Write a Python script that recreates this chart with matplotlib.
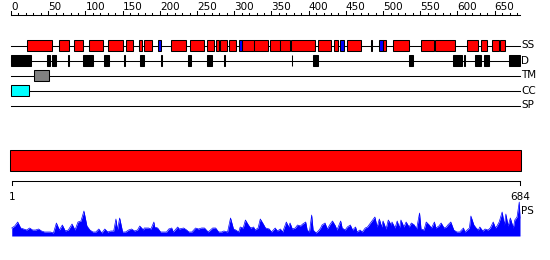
import matplotlib
matplotlib.use("Agg")
import matplotlib.pyplot as plt
from matplotlib.patches import Rectangle

seq_len = 684

# secondary structure (start, end) in residues
ss_helix = [(22, 55), (64, 78), (84, 97), (105, 124), (131, 150), (155, 164), (172, 176),
            (179, 189), (215, 235), (240, 260), (264, 273), (275, 279), (281, 290), (293, 302),
            (311, 327), (327, 346), (348, 361), (361, 375), (376, 408), (412, 430), (434, 440),
            (452, 471), (484, 485), (500, 504), (514, 535), (551, 568), (570, 597), (613, 627),
            (632, 639), (646, 656), (657, 664)]
ss_strand = [(197, 202), (306, 311), (442, 447), (494, 500)]
disorder = [(0, 27), (48, 53), (55, 61), (77, 78), (97, 110), (125, 132), (152, 153),
            (173, 179), (201, 203), (238, 242), (263, 270), (286, 287), (377, 378),
            (406, 412), (535, 540), (594, 606), (609, 610), (624, 631), (636, 642), (669, 684)]
tm = [(31, 51)]
cc = [(0, 24)]
sp = []

track_names = ["SS", "D", "TM", "CC", "SP"]
ruler_labels = [0, 50, 100, 150, 200, 250, 300, 350, 400, 450, 500, 550, 600, 650]

# PS profile (residue, score)
ps_pos = [1, 5, 9, 13, 17, 21, 25, 29, 33, 37, 41, 45, 49, 53, 57, 61, 65, 69, 73, 77,
          82, 86, 90, 94, 98, 102, 106, 110, 114, 118, 122, 126, 130, 134, 138, 141, 143, 146,
          150, 154, 158, 162, 166, 170, 173, 178, 179, 185, 188, 192, 193, 197, 201, 209,
          212, 216, 218, 224, 226, 232, 236, 239, 243, 248, 252, 256, 260, 265, 271, 275,
          279, 283, 286, 291, 295, 299, 302, 306, 308, 312, 315, 319, 322, 326, 328, 332,
          335, 339, 342, 347, 350, 355, 358, 362, 365, 370, 373, 375, 378, 382, 385, 389,
          392, 396, 398, 401, 404, 406, 410, 413, 416, 418, 422, 425, 429, 432, 436, 438,
          443, 445, 449, 452, 456, 459, 463, 465, 469, 472, 476, 479, 483, 485, 489, 492,
          495, 498, 500, 504, 507, 511, 512, 516, 519, 522, 524, 528, 531, 535, 538, 542,
          545, 549, 551, 555, 558, 562, 565, 569, 571, 575, 578, 582, 585, 587, 591, 595,
          599, 603, 608, 610, 616, 618, 622, 625, 628, 630, 634, 637, 641, 644, 648, 651,
          653, 656, 660, 663, 665, 668, 671, 675, 677, 680, 683, 684]
ps_val = [8, 10, 14, 8, 7, 6, 8, 6, 6, 7, 5, 4, 4, 4, 3, 13, 6, 11, 5, 6,
          12, 6, 14, 15, 25, 10, 6, 4, 4, 7, 3, 7, 4, 5, 5, 17, 6, 18,
          4, 4, 6, 7, 5, 6, 10, 6, 8, 8, 7, 14, 9, 8, 4, 4,
          7, 8, 4, 9, 7, 8, 6, 4, 4, 8, 7, 8, 8, 4, 8, 8,
          4, 4, 5, 4, 18, 7, 6, 4, 9, 8, 16, 11, 8, 9, 6, 8,
          17, 12, 8, 7, 4, 8, 5, 7, 4, 14, 9, 13, 7, 8, 11, 10,
          12, 14, 6, 4, 21, 6, 3, 5, 8, 11, 13, 7, 12, 15, 10, 6,
          15, 8, 6, 9, 11, 6, 9, 4, 6, 4, 8, 9, 13, 15, 19, 9,
          17, 9, 15, 7, 16, 11, 14, 8, 15, 8, 16, 9, 14, 9, 13, 11,
          7, 23, 7, 6, 14, 11, 8, 14, 8, 10, 13, 8, 9, 11, 14, 6,
          4, 4, 8, 4, 8, 20, 11, 8, 6, 9, 5, 7, 6, 8, 14, 8,
          10, 14, 24, 11, 22, 10, 18, 8, 16, 19, 34, 18]

# pixel-row layout of the picture
W, H = 550, 260
x0_px, x1_px = 11, 520
px_per_res = (x1_px - x0_px) / seq_len
xmin = -x0_px / px_per_res
xmax = (W - x0_px) / px_per_res

fig = plt.figure(figsize=(W / 100, H / 100), dpi=100)
ax = fig.add_axes([0, 0, 1, 1])
ax.set_xlim(xmin, xmax)
ax.set_ylim(H, 0)
ax.axis("off")

lw = 0.75
fs = 7.5

# top ruler
ruler_y = 14.5
ax.plot([0, seq_len], [ruler_y, ruler_y], color="black", lw=lw)
for t in range(0, seq_len, 10):
    top = 11 if t % 50 == 0 else 12.5
    ax.plot([t, t], [top, ruler_y], color="black", lw=lw)
for t in ruler_labels:
    ax.text(t, 10.5, str(t), ha="left", va="baseline", fontsize=fs)

# tracks
track_y = [45.5, 60.5, 75.5, 90.5, 105.5]
box_h = 10.5
tracks = [
    [(ss_helix, "#ff0000"), (ss_strand, "#0000ff")],
    [(disorder, "black")],
    [(tm, "#808080")],
    [(cc, "#00ffff")],
    [(sp, "#ffcc00")],
]
for y, name, feats in zip(track_y, track_names, tracks):
    ax.plot([0, seq_len], [y, y], color="black", lw=lw, zorder=1)
    for segs, col in feats:
        for s, e in segs:
            ax.add_patch(Rectangle((s, y - box_h / 2), e - s, box_h, facecolor=col,
                                   edgecolor="black", lw=lw, zorder=2))
    ax.text(seq_len + 2, y, name, ha="left", va="center", fontsize=fs)

# full-length bar
ax.add_patch(Rectangle((-1, 150), seq_len + 2, 20.5, facecolor="#ff0000",
                       edgecolor="black", lw=lw))

# bottom ruler
ax.plot([1, seq_len], [180.5, 180.5], color="black", lw=lw)
for t in [1, seq_len]:
    ax.plot([t, t], [180.5, 185], color="black", lw=lw)
    ax.text(t, 199.5, str(t), ha="center", va="baseline", fontsize=fs)

ax.text(seq_len + 2, 210.5, "PS", ha="left", va="center", fontsize=fs)

# PS profile
ax2 = fig.add_axes([0, (H - 236) / H, 1, 40 / H])
ax2.set_xlim(xmin, xmax)
ax2.set_ylim(0, 40)
ax2.axis("off")
ax2.fill_between(ps_pos, ps_val, 0, color="#0000ff", lw=0)
ax2.plot(ps_pos, ps_val, color="#0000ff", lw=0.5)
ax2.plot([1, seq_len + 3], [0.3, 0.3], color="#0000ff", lw=lw)

fig.savefig("out.png", dpi=100)
